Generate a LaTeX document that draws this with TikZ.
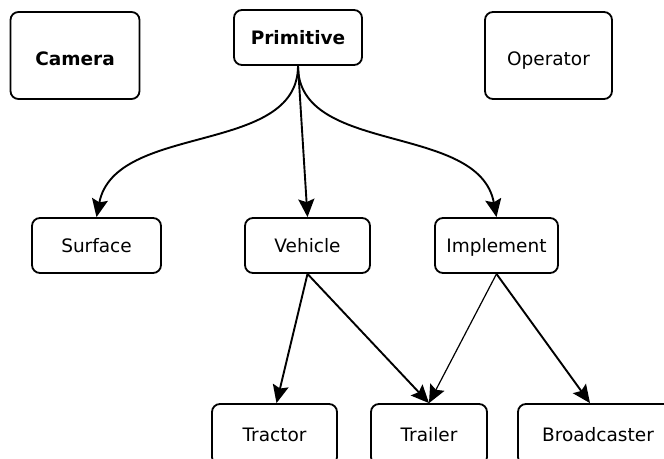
\documentclass[tikz,border=0pt]{standalone}
\usepackage{fontspec}
\setmainfont{DejaVu Sans}
\usetikzlibrary{arrows.meta}
\begin{document}
\begin{tikzpicture}[x=1pt,y=-1pt,
  box/.style={draw, line width=1.8pt, rounded corners=8pt, inner sep=0pt,
    font=\fontsize{18.5}{20}\selectfont, text height=13pt, text depth=0pt, anchor=center},
  boldbox/.style={box, font=\fontsize{18.5}{20}\selectfont\bfseries},
  conn/.style={line width=1.9pt, -{Stealth[length=18pt,width=16pt,inset=3pt]}},
  thinconn/.style={conn, line width=1.2pt}]
\clip (0,0) rectangle (664,458);
% top row
\node[boldbox, minimum width=129pt, minimum height=87pt] (cam) at (75,55.5) {\raisebox{-3pt}{Camera}};
\node[boldbox, minimum width=128pt, minimum height=55pt] (prim) at (298,37.5) {Primitive};
\node[box, minimum width=127pt, minimum height=87pt] (oper) at (548.5,55.5) {\raisebox{-3pt}{Operator}};
% middle row
\node[box, minimum width=129pt, minimum height=55pt] (surf) at (96.5,245.5) {Surface};
\node[box, minimum width=125pt, minimum height=55pt] (veh) at (307.5,245.5) {Vehicle};
\node[box, minimum width=123pt, minimum height=55pt] (impl) at (496.5,245.5) {Implement};
% bottom row
\node[box, minimum width=125pt, minimum height=61pt] (trac) at (274.5,434.5) {Tractor};
\node[box, minimum width=116pt, minimum height=61pt] (trail) at (429,434.5) {Trailer};
\node[box, minimum width=160pt, minimum height=61pt] (broad) at (598,434.5) {Broadcaster};
% connectors
\draw[conn] (prim.south) .. controls +(0,90) and +(18.5,-95) .. (surf.north);
\draw[conn] (prim.south) -- (veh.north);
\draw[conn] (prim.south) .. controls +(0,90) and +(-17.5,-95) .. (impl.north);
\draw[conn] (veh.south) -- ([xshift=2pt]trac.north);
\draw[conn] (veh.south) -- (trail.north);
\draw[thinconn] (impl.south) -- (trail.north);
\draw[conn] (impl.south) -- ([xshift=-8pt]broad.north);
\end{tikzpicture}
\end{document}
